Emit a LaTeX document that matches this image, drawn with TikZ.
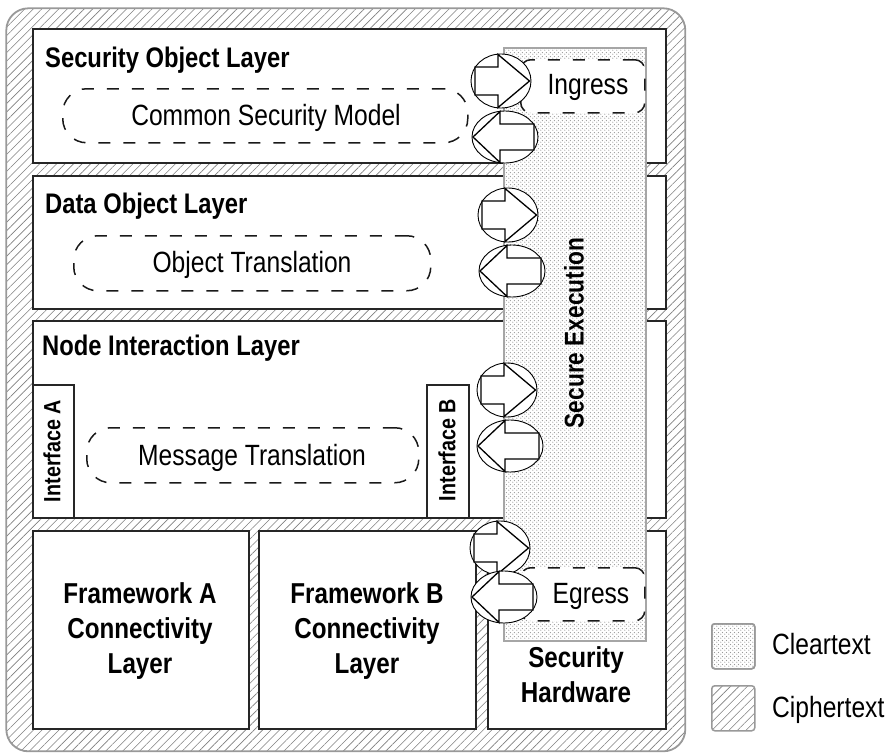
\documentclass[tikz,border=0pt]{standalone}
\usepackage{fontspec}
\setmainfont[FakeStretch=0.84]{Liberation Sans}
\usetikzlibrary{shapes.geometric,patterns,patterns.meta}
\pgfdeclarepatternformonly{sdots}{\pgfpoint{0pt}{0pt}}{\pgfpoint{4pt}{4pt}}{\pgfpoint{4pt}{4pt}}{%
  \pgfpathcircle{\pgfpoint{1pt}{1pt}}{0.75pt}%
  \pgfpathcircle{\pgfpoint{3pt}{3pt}}{0.75pt}%
  \pgfusepath{fill}}
\newcommand\RightArr[3]{%
  \node[ell, minimum width=60pt, minimum height=54pt] (#1) at (#2,#3) {};
  \draw[arr, shift={(#1.center)}] (-26,-14) -- (-3,-14) -- (-3,-26.5) -- (28.5,0) -- (-3,26.5) -- (-3,14) -- (-26,14) -- cycle;}
\newcommand\LeftArr[3]{%
  \node[ell, minimum width=66pt, minimum height=52pt] (#1) at (#2,#3) {};
  \draw[arr, shift={(#1.center)}] (29,-13) -- (-5,-13) -- (-5,-25.5) -- (-32,0) -- (-5,25.5) -- (-5,13) -- (29,13) -- cycle;}
\begin{document}
\begin{tikzpicture}[x=1pt,y=-1pt,
  box/.style={rectangle, draw=black!85, line width=1.8pt, fill=white, anchor=north west, inner sep=0pt},
  hatch/.style={pattern={Lines[angle=45,distance=6pt,line width=0.6pt]}, pattern color=black!50},
  dots/.style={pattern=sdots, pattern color=black!40},
  dashbox/.style={rectangle, draw=black!90, line width=1.5pt, dash pattern=on 12pt off 13pt, fill=white, rounded corners=24pt, anchor=north west, inner sep=0pt},
  tagbox/.style={dashbox, rounded corners=10pt},
  ell/.style={ellipse, draw=black, line width=0.9pt, fill=white, inner sep=0pt},
  arr/.style={draw=black, line width=1.3pt, fill=white, line join=miter},
  head/.style={font=\fontsize{28.3}{34}\selectfont\bfseries, anchor=base west, inner sep=0pt},
  lbl/.style={font=\fontsize{29.3}{35}\selectfont, anchor=base, inner sep=0pt},
  blk/.style={font=\fontsize{28.8}{35}\selectfont\bfseries, align=center, inner sep=0pt},
  side/.style={font=\fontsize{23.5}{28}\selectfont\bfseries, rotate=90, inner sep=0pt},
  swatch/.style={rectangle, draw=black!40, line width=1.5pt, rounded corners=3pt, anchor=north west, inner sep=0pt, minimum width=43pt, minimum height=45pt}
]
\useasboundingbox (0,0) rectangle (894,755);
\fill[white] (0,0) rectangle (894,755);

% outer ciphertext region
\node[rectangle, anchor=north west, inner sep=0pt, minimum width=679pt, minimum height=743pt,
      rounded corners=22pt, draw=black!40, line width=1.8pt, hatch] (outer) at (6,8) {};

% layers
\node[box, minimum width=633pt, minimum height=134pt] (sol) at (32,28) {};
\node[box, minimum width=633pt, minimum height=133pt] (dol) at (32,175) {};
\node[box, minimum width=633pt, minimum height=197pt] (nil) at (32,320) {};
\node[box, minimum width=216pt, minimum height=198pt] (fwa) at (32,530) {};
\node[box, minimum width=217pt, minimum height=198pt] (fwb) at (258,530) {};
\node[box, minimum width=178pt, minimum height=198pt] (sh) at (487,530) {};
\node[box, minimum width=41pt, minimum height=133pt] (ifa) at (32,384) {};
\node[box, minimum width=42pt, minimum height=133pt] (ifb) at (426,384) {};

% dashed inner boxes
\node[dashbox, minimum width=405pt, minimum height=54pt] (csm) at (62,88) {};
\node[dashbox, minimum width=357pt, minimum height=55pt] (otr) at (73,235) {};
\node[dashbox, minimum width=332pt, minimum height=55pt] (mtr) at (86,427) {};

% secure execution (cleartext) stripe
\node[rectangle, anchor=north west, inner sep=0pt, minimum width=142pt, minimum height=593pt,
      fill=white] (sec) at (503,47) {};
\node[rectangle, anchor=north west, inner sep=0pt, minimum width=142pt, minimum height=593pt,
      draw=black!35, line width=1.5pt, dots] (secdots) at (503,47) {};

% ingress / egress
\node[tagbox, minimum width=124pt, minimum height=53pt] (ing) at (520,59) {};
\node[tagbox, minimum width=124pt, minimum height=53pt] (egr) at (520,567) {};

% arrows
\RightArr{r1}{501}{81}
\LeftArr{l1}{505}{137}
\RightArr{r2}{508}{215}
\LeftArr{l2}{512}{271}
\RightArr{r3}{507}{390}
\LeftArr{l3}{510}{446}
\RightArr{r4}{500}{548}
\LeftArr{l4}{504}{597}

% texts
\node[head] (tsol) at (45,67) {Security Object Layer};
\node[head] (tdol) at (45,213) {Data Object Layer};
\node[head] (tnil) at (42,355) {Node Interaction Layer};
\node[lbl] (tcsm) at (266,125) {Common Security Model};
\node[lbl] (totr) at (252,272) {Object Translation};
\node[lbl] (tmtr) at (252,465) {Message Translation};
\node[lbl] (ting) at (588,94) {Ingress};
\node[lbl] (tegr) at (591,603) {Egress};
\node[side] (tifa) at (52,451) {Interface A};
\node[side] (tifb) at (447,450) {Interface B};
\node[font=\fontsize{27}{30}\selectfont\bfseries, rotate=90, inner sep=0pt] (tsec) at (574,333) {Secure Execution};
\node[blk] (tfwa) at (140,631) {Framework A\\Connectivity\\Layer};
\node[blk] (tfwb) at (367,631) {Framework B\\Connectivity\\Layer};
\node[blk] (tsh) at (576,675) {Security\\Hardware};

% legend
\node[swatch, fill=white] (lgc0) at (711,623) {};
\node[swatch, dots] (lgc) at (711,623) {};
\node[swatch, hatch] (lgh) at (711,685) {};
\node[lbl, anchor=base west] (tlgc) at (772,654) {Cleartext};
\node[lbl, anchor=base west] (tlgh) at (772,717) {Ciphertext};
\end{tikzpicture}
\end{document}
